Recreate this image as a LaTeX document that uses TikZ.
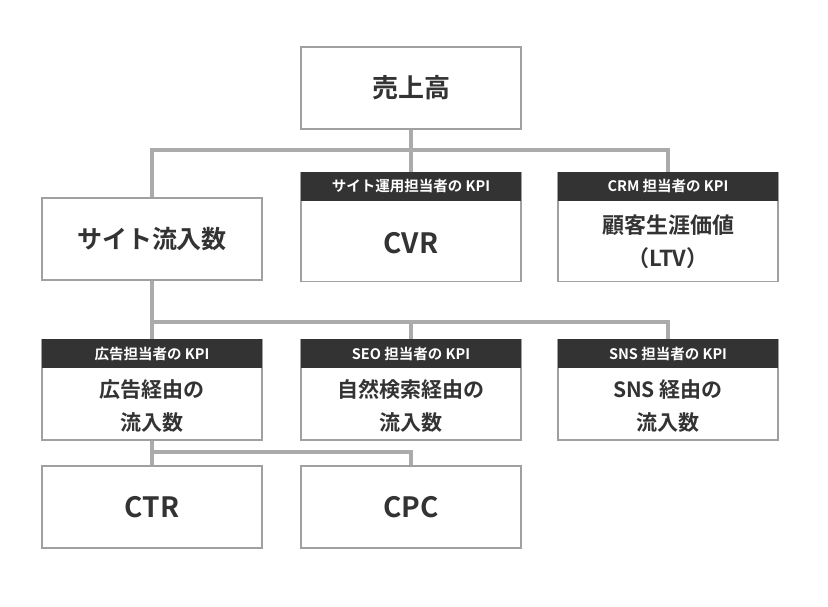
\documentclass[tikz,border=0pt]{standalone}
\usepackage{fontspec}
\setmainfont{Noto Sans CJK JP}[BoldFont={* Bold}]
\definecolor{frame}{HTML}{A0A0A0}
\definecolor{link}{HTML}{ABABAB}
\definecolor{band}{HTML}{333333}
\definecolor{ink}{HTML}{333333}

\begin{document}
\begin{tikzpicture}[x=1pt, y=-1pt, font=\bfseries, text=ink,
    box/.style = {draw=frame, line width=1.8pt, fill=white, minimum width=220pt, inner sep=0pt, align=center},
    head/.style = {fill=band, text=white, minimum width=220pt, minimum height=29pt, inner sep=0pt, font=\fontsize{14.5}{14}\bfseries, anchor=north},
    label/.style = {align=center, inner sep=0pt, font=\fontsize{21}{33}\bfseries},
    wire/.style = {draw=link, line width=3.5pt}]
      \useasboundingbox (0,0) rectangle (828,606);
      % boxes
      \node[box, minimum height=82pt, font=\fontsize{26}{30}\bfseries] (top) at (411,88) {売上高};
      \node[box, minimum height=82pt, font=\fontsize{25}{30}\bfseries] (site) at (152,239) {サイト流入数};
      \node[box, minimum height=109pt] (cvr) at (411,227) {};
      \node[box, minimum height=109pt] (crm) at (668,227) {};
      \node[box, minimum height=100pt] (ad) at (152,390) {};
      \node[box, minimum height=100pt] (seo) at (411,390) {};
      \node[box, minimum height=100pt] (sns) at (668,390) {};
      \node[box, minimum height=82pt, font=\fontsize{28}{30}\bfseries] (ctr) at (152,507) {CTR};
      \node[box, minimum height=82pt, font=\fontsize{28}{30}\bfseries] (cpc) at (411,507) {CPC};
      % header bands
      \node[head] (cvrh) at (cvr.north) {サイト運用担当者の KPI};
      \node[head] (crmh) at (crm.north) {CRM 担当者の KPI};
      \node[head] (adh) at (ad.north) {広告担当者の KPI};
      \node[head] (seoh) at (seo.north) {SEO 担当者の KPI};
      \node[head] (snsh) at (sns.north) {SNS 担当者の KPI};
      % body texts
      \node[label, font=\fontsize{28}{30}\bfseries] (cvrt) at (411,243) {CVR};
      \node[label, font=\fontsize{22}{33}\bfseries] (crmt) at (668,242) {顧客生涯価値\\（LTV）};
      \node[label] (adt) at (152,406) {広告経由の\\流入数};
      \node[label] (seot) at (411,406) {自然検索経由の\\流入数};
      \node[label] (snst) at (668,406) {SNS 経由の\\流入数};
      % connectors
      \coordinate (j1) at (411,150);
      \coordinate (j2) at (152,322);
      \coordinate (j3) at (152,452);
      \draw[wire] (top.south) -- (j1) -- (cvr.north);
      \draw[wire] (site.north) -- (site.north|-j1) -- (crm.north|-j1) -- (crm.north);
      \draw[wire] (site.south) -- (ad.north);
      \draw[wire] (j2) -- (sns.north|-j2) -- (sns.north);
      \draw[wire] (seo.north|-j2) -- (seo.north);
      \draw[wire] (ad.south) -- (ctr.north);
      \draw[wire] (j3) -- (cpc.north|-j3) -- (cpc.north);
    \end{tikzpicture}
\end{document}
